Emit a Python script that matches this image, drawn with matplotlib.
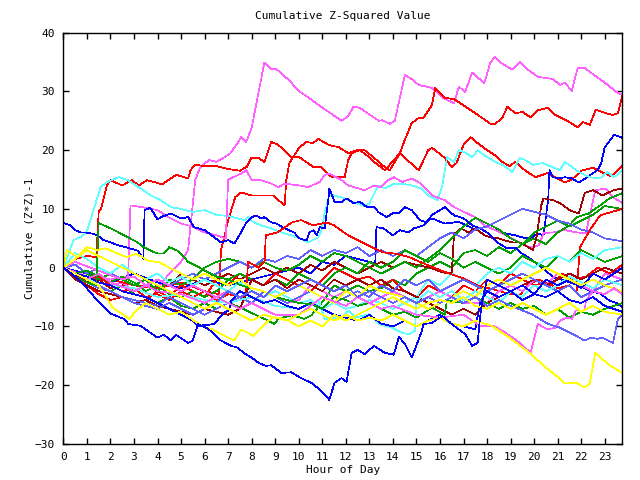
import matplotlib
matplotlib.use("Agg")
import matplotlib.pyplot as plt

# (hour, cumulative value) vertices, one list per trace
mag_a = [(0, 0), (0.5, -1), (1, -2), (1.5, -1.5), (2, -3), (2.5, -2.5), (3, -4), (3.5, -3), (4, -3.5), (4.5, -1),
         (5, 1), (5.3, 3), (5.6, 14.9), (5.8, 17), (6.0, 17.8), (6.2, 18.3), (6.5, 18), (6.8, 18.7), (7.1, 19.5),
         (7.4, 21.2), (7.55, 22.2), (7.77, 21.4), (8.0, 23.8), (8.3, 30), (8.54, 34.9), (8.83, 33.8), (9.05, 33.8),
         (9.56, 32), (10.03, 30), (10.4, 29), (10.84, 27.7), (11.27, 26.5), (11.82, 25), (12.08, 25.7), (12.33, 27.4),
         (12.59, 27.2), (13.4, 25), (13.53, 25.1), (13.87, 24.5), (14.08, 25), (14.51, 32.8), (14.8, 32.1),
         (15.1, 31.1), (15.66, 30.6), (16.2, 28.7), (16.6, 28), (16.8, 30.8), (17.07, 29.9), (17.37, 33.2),
         (17.88, 31.4), (18.14, 34.9), (18.35, 35.9), (18.57, 34.9), (19.08, 33.7), (19.38, 35), (19.63, 34),
         (20.15, 32.5), (20.8, 32.1), (21.1, 31.1), (21.3, 31.5), (21.6, 30.1), (21.85, 34), (22.15, 34),
         (22.4, 33.2), (23.0, 31.5), (23.5, 29.9), (23.75, 29.4)]
mag_b = [(0, 0), (1, -1.5), (2, -2), (2.75, -1.5), (2.85, 10.6), (3.35, 10.3), (4, 9.8), (4.5, 8.5), (5, 7.5),
         (5.5, 7), (6, 6), (6.5, 5.5), (6.9, 5), (7.0, 15), (7.55, 16), (7.77, 16.6), (8, 14.9), (8.4, 14.9),
         (8.83, 14.3), (9.13, 13.7), (9.4, 14.3), (10.03, 14), (10.4, 13.7), (10.9, 14.6), (11.1, 15.8), (11.3, 16),
         (11.82, 14.9), (12.1, 14), (12.8, 13.2), (13.2, 14), (13.5, 13.7), (13.8, 14.9), (14.04, 15.4),
         (14.4, 14.6), (14.8, 15.2), (15.2, 14.3), (15.66, 12.3), (16.2, 11.5), (16.6, 10.3), (17.07, 9.4),
         (17.5, 8.6), (17.9, 7.2), (18.35, 6.4), (18.8, 5.5), (19.4, 4.3), (19.8, 3.5), (20.2, 3.8), (20.4, 5.9),
         (20.8, 6), (21.3, 6.4), (21.8, 6), (22.2, 5.9), (22.6, 13.2), (23.05, 13.5), (23.35, 12), (23.75, 11)]
mag_c = [(0, 0), (1, -2), (1.5, -1), (2, -2.5), (3, -4), (3.5, -3), (4, -4), (5, -4.5), (6, -6), (6.5, -5),
         (7.5, -7), (8, -6), (9, -8), (10, -8), (10.5, -6.5), (11, -5), (12, -6.5), (12.5, -5), (13.5, -7),
         (14, -6.5), (15, -8), (16, -8.5), (17, -8), (17.7, -9.9), (18.3, -9.9), (18.8, -11.1), (19.4, -12.8),
         (19.85, -14.5), (20.15, -9.6), (20.57, -10.5), (20.9, -10.2), (21.1, -9), (21.4, -8.5), (21.6, -8.7),
         (21.77, -7.3), (22.15, -7.3), (22.2, -5.6), (22.5, -4), (23, -4.5), (23.4, -3.5), (23.75, -4.5)]
mag_d = [(0, 0), (0.5, 1), (1.5, -0.5), (2.5, -2), (3, -1.5), (3.5, -3), (4, -2), (5, -4), (5.5, -3), (6.5, -5),
         (7, -4), (8, -6), (8.5, -4), (9.5, -6), (10, -5.5), (10.5, -3), (11.5, -5), (12, -4), (13, -6),
         (14, -4), (15, -6), (16, -4), (17, -6), (18, -6), (18.5, -4), (19, -3), (19.5, -4), (20, -2),
         (20.5, -3), (21, -1), (22, -3), (22.5, -4), (23, -1), (23.75, -2)]

red_b = [(0, 0), (0.5, 1.5), (1, 2), (1.4, 1.8), (1.5, 9.5), (1.6, 10), (1.85, 14), (2, 14.9), (2.5, 14),
         (2.9, 14.9), (3.2, 14), (3.56, 14.9), (4.2, 14.2), (4.8, 15.8), (5.3, 15.2), (5.4, 16.6), (5.6, 17.5),
         (6, 17.3), (6.5, 17.3), (7, 16.8), (7.5, 16.5), (7.8, 17.2), (7.98, 18.7), (8.28, 18.7), (8.54, 18),
         (8.83, 21.4), (9.13, 20.9), (9.69, 18.8), (10.03, 18.8), (10.63, 17.1), (10.97, 17.1), (11.4, 15.4),
         (11.95, 15.4), (12.1, 18.3), (12.25, 19.5), (12.6, 20), (12.9, 19.1), (13.2, 18), (13.66, 16.6),
         (14.04, 18.3), (14.3, 19.5), (14.5, 21.7), (14.8, 24.6), (15.1, 25.5), (15.3, 25.5), (15.66, 27.7),
         (15.8, 30.6), (16.2, 28.9), (16.6, 28.7), (16.9, 27.9), (17.5, 26.3), (18.14, 24.5), (18.35, 24.5),
         (18.65, 25.5), (18.86, 27.4), (19.2, 26.3), (19.5, 26.5), (19.85, 25.6), (20.15, 26.8), (20.57, 27.2),
         (20.9, 26), (21.4, 25), (21.85, 23.9), (22.07, 24.8), (22.36, 24.3), (22.62, 26.9), (23.05, 26.3),
         (23.35, 26), (23.56, 26.3), (23.75, 29.4)]
red_c = [(0, 0), (1, -1.5), (2, -2), (3, -3), (4, -3.5), (5, -2.5), (6, -4), (6.6, -4.5), (6.7, 3), (7, 8),
         (7.3, 12), (7.55, 12.8), (8, 12.3), (8.9, 12.3), (9.4, 10.6), (9.47, 14.9), (9.6, 17.8), (10.03, 20.5),
         (10.33, 21.4), (10.6, 21.2), (10.84, 21.9), (11.27, 20.9), (11.7, 20.5), (12.1, 19.5), (12.5, 20),
         (12.8, 20), (13.2, 18.7), (13.66, 17.1), (13.87, 16.6), (14.08, 18), (14.3, 19.5), (14.5, 18.7),
         (15.1, 16.6), (15.5, 20), (15.66, 20.4), (16.2, 18.7), (16.5, 17.1), (16.7, 17.8), (17.0, 20.9),
         (17.3, 22.2), (17.6, 21.2), (17.9, 20.3), (18.35, 19.1), (18.65, 18), (18.95, 17.3), (19.2, 18),
         (19.6, 16.6), (20.06, 15.4), (20.57, 16.1), (20.9, 15.4), (21.3, 14.5), (21.6, 15), (22, 16.5),
         (22.5, 17), (23, 16), (23.3, 15.5), (23.75, 17.4)]
red_d = [(0, 0), (0.5, -1.5), (1, -3), (1.5, -4.5), (2, -5.5), (2.5, -5), (3, -6), (3.5, -5.5), (4, -4),
         (4.5, -5), (5, -3), (5.5, -4), (6, -5), (6.5, -2), (7, -3), (7.5, -1), (8, -2), (8.5, -3), (9, -1),
         (9.5, -2), (10, -3), (10.5, -4), (11, -2), (11.5, 0), (12, -1), (12.5, -2), (13, -1.5), (13.5, -3),
         (14, -2), (14.5, -4), (15, -5), (15.5, -3), (16, -4), (16.5, -5), (17, -3), (17.5, -4), (18, -2),
         (18.5, -3), (19, -1), (19.5, -2), (20, -3), (20.5, -2.5), (21, -3.5), (21.5, -3), (21.8, -4.3),
         (21.95, 3.5), (22.4, 6.6), (22.8, 8.9), (23.3, 9.5), (23.75, 10)]
red_e = [(0, 0), (0.5, -1), (1, -2), (1.5, -1.5), (2, -3), (2.5, -4), (3, -3.5), (3.5, -5), (4, -4.5), (4.5, -5.5),
         (5, -4), (5.5, -5), (6, -4), (6.5, -5.5), (7, -4.5), (7.5, -5), (7.75, -4.7), (7.85, 1), (8.3, 0),
         (8.55, 1), (8.6, 5.5), (9.1, 6), (9.7, 7.7), (10.1, 8.1), (10.6, 7.2), (11.2, 7.7), (11.5, 7.2),
         (12.1, 5.5), (12.7, 4.3), (13.2, 3.3), (13.6, 2.6), (14.1, 2.4), (14.7, 1.8), (15.2, 0.9), (15.8, -0.1),
         (16.4, -1), (17, -1.8), (17.6, -3), (18.2, -3.6), (18.8, -4.3), (19.4, -4.7), (19.7, -3), (20.2, -2),
         (20.7, -3), (21.2, -1), (21.7, -2), (22.2, -1.5), (22.7, 0), (23.2, -1), (23.75, 0.5)]

blue_top = [(0, 7.6), (0.3, 7.2), (0.5, 6.4), (0.73, 6), (0.94, 6), (1.24, 5.8), (1.45, 5.5), (1.7, 4.7),
            (2, 4.3), (2.35, 3.8), (2.73, 3.4), (3.16, 2.9), (3.4, 1.5), (3.45, 9.8), (3.7, 10.2), (4, 8.2),
            (4.2, 8.7), (4.57, 9.2), (5, 8.4), (5.3, 8.6), (5.55, 6.9), (6, 6.4), (6.4, 5.2), (6.7, 4.3), (7, 4.7),
            (7.26, 4.1), (7.55, 6), (7.77, 7.7), (8, 8.6), (8.2, 8.9), (8.4, 8.4), (8.54, 8.6), (8.83, 7.7),
            (9.05, 7.5), (9.4, 6.7), (9.8, 6), (10.03, 5), (10.33, 4.6), (10.45, 6), (10.63, 6.4), (10.76, 5.5),
            (10.9, 6.9), (11.1, 6.7), (11.27, 12), (11.3, 13.5), (11.52, 11.2), (11.82, 11.2), (12.03, 11.8),
            (12.33, 11), (12.6, 11.2), (12.9, 10.3), (13.2, 10.3), (13.4, 9.4), (13.74, 8.6), (14.04, 9.4),
            (14.25, 9.2), (14.5, 10.3), (14.8, 9.8), (15.15, 8.1), (15.45, 7.7), (15.66, 9), (16, 9.8),
            (16.2, 10.3), (16.6, 8.9), (17, 8.4), (17.37, 7.2), (17.7, 6.7), (18, 6), (18.44, 4.3), (18.8, 3.4),
            (19.2, 3.4), (19.4, 2.6), (19.75, 1.8), (19.95, 1.2), (20.5, -0.5), (20.8, -1.6), (21.3, -2.2),
            (21.9, -3), (22.36, -3.9), (22.8, -4.4), (23.2, -5.6), (23.56, -6.1), (23.75, -6.8)]
blue_d = [(0, 0), (0.5, -1.5), (1, -3.5), (1.45, -5.6), (2, -7.8), (2.56, -8.7), (2.77, -9.6), (3.29, -9.9),
          (3.71, -11.1), (4, -11.9), (4.27, -11.4), (4.57, -12.4), (4.78, -11.4), (5.3, -12.8), (5.5, -12.4),
          (5.72, -9.6), (6.15, -10.4), (6.7, -12.4), (7.13, -13.3), (7.4, -13.6), (7.7, -14.6), (8, -15.3),
          (8.3, -16.2), (8.6, -16.7), (8.83, -16.6), (9.26, -17.9), (9.69, -17.8), (10.1, -18.8), (10.54, -19.6),
          (10.97, -21), (11.3, -22.5), (11.52, -19.6), (11.82, -18.8), (12.03, -19.4), (12.25, -14.5),
          (12.5, -14), (12.8, -14.7), (13.2, -13.3), (13.66, -14.5), (14.04, -14.8), (14.25, -11.8),
          (14.5, -12.9), (14.8, -15.3), (15.2, -11.1), (15.3, -9.6), (15.66, -9.4), (16.1, -8.2), (16.5, -9.6),
          (17.07, -11.3), (17.37, -13.3), (17.6, -12.8), (17.7, -8.5), (17.8, -5.6), (18, -2), (18.5, -3),
          (19, -4), (19.5, -3), (20, -4.5), (20.5, -5), (21, -4), (21.5, -5.5), (22, -6), (22.5, -5), (23, -6.5),
          (23.75, -7.5)]
blue_e = [(0, 0), (1, -1), (2, -2.5), (3, -1), (4, -2.5), (5, -3.5), (6, -2), (7, -3), (8, -2), (9, -1),
          (10, 0), (10.5, -1), (11, 1), (11.5, 0.5), (12, 2), (12.5, 1.5), (13, 1), (13.25, 0.7), (13.3, 6.9),
          (13.6, 6.7), (14, 5.5), (14.3, 6.4), (14.66, 6), (14.9, 6.7), (15.3, 7.2), (15.5, 8.1), (15.66, 8.4),
          (16.2, 7.5), (16.8, 7.8), (17.5, 6.5), (18, 7), (18.6, 6), (19.2, 5.5), (19.55, 5.1), (19.85, 5),
          (20.15, 5.8), (20.4, 5.5), (20.6, 11.8), (20.65, 16.6), (20.8, 15.4), (21.1, 15.2), (21.3, 15.4),
          (21.6, 15.2), (21.9, 14.5), (22.3, 15.5), (22.5, 16.1), (22.7, 16.6), (22.85, 17.8), (23, 20.5),
          (23.4, 22.6), (23.75, 22.1)]
blue_f = [(0, 0), (0.5, -1), (1, -1.5), (1.5, -2.5), (2, -3), (2.5, -4), (3, -4.5), (3.5, -5), (4, -6),
          (4.5, -7), (5, -8), (5.5, -9), (5.72, -9.9), (6.4, -9.6), (6.83, -7.6), (7.04, -7.3), (7.13, -5.6),
          (7.5, -4), (8, -5), (8.5, -6), (9, -5.5), (9.5, -6.5), (10, -7), (10.5, -6), (11, -7), (11.5, -8),
          (12, -8.5), (12.5, -9), (13, -8), (13.5, -9.5), (14, -10), (14.5, -9), (15, -10), (15.5, -9),
          (16, -8), (16.5, -9.5), (17, -10), (17.5, -10.5), (17.7, -6), (18, -4), (18.5, -5), (19, -4),
          (19.5, -5.5), (20, -4.5), (20.5, -2), (21, -3), (21.5, -2), (22, -3.5), (22.5, -1), (23, -2),
          (23.75, 0)]

cyan_a = [(0, 0), (0.43, 4.7), (0.73, 5.2), (1.02, 6.4), (1.28, 9.8), (1.58, 13.7), (1.88, 14.6), (2.35, 15.4),
          (2.73, 14.9), (3.29, 13.5), (3.71, 12.3), (4.14, 11.5), (4.57, 10.3), (4.87, 10.1), (5.5, 9.5),
          (6, 9.8), (6.5, 9), (7, 8.8), (7.7, 8.1), (7.85, 8.6), (8.1, 7.7), (8.4, 7.2), (8.83, 6.7), (9.26, 6),
          (9.69, 5.5), (10.03, 5), (10.4, 4.3), (10.84, 5.2), (10.97, 6.4), (11.1, 9.3), (11.3, 12.5),
          (11.8, 12), (12.3, 11.2), (12.8, 10.5), (13, 10.9), (13.2, 12.6), (13.4, 14), (13.66, 13.5),
          (14.04, 14.3), (14.4, 14.3), (14.8, 14), (15.2, 13.5), (15.5, 12.3), (15.9, 11.5), (16.1, 14),
          (16.3, 18.8), (16.6, 18), (16.8, 20), (17.07, 19.6), (17.37, 18.8), (17.6, 20), (17.9, 19.1),
          (18.35, 18), (18.65, 17.5), (19.08, 16.3), (19.38, 18.7), (19.63, 18.3), (19.95, 17.5), (20.36, 17.8),
          (21.1, 16.6), (21.3, 18), (21.9, 16.3), (22.36, 15.4), (22.8, 15.2), (23.1, 16.3), (23.4, 15.4),
          (23.75, 16.6)]
cyan_b = [(0, 0), (0.5, -1), (1, -2), (2, -3), (3, -3.5), (4, -5), (5, -4.5), (6, -5.5), (7, -6), (8, -5),
          (9, -6.5), (10, -7), (10.84, -5.6), (11.1, -8.7), (11.8, -8.5), (12.1, -7.3), (12.4, -8.5), (13, -7.9),
          (13.4, -9.6), (13.95, -10.2), (14.4, -11.1), (14.7, -11.3), (14.94, -10.7), (15.0, -5.6), (15.5, -4),
          (16, -5), (16.5, -4), (17, -5.5), (17.5, -4), (18, -5), (18.5, -6), (19, -4), (19.5, -5), (20, -3),
          (20.5, -4), (21, -3), (21.5, -1.5), (22, -2.5), (22.5, -3.5), (23, -2), (23.75, -3)]
cyan_c = [(0, 0), (0.5, 2.5), (1, 1.5), (1.5, 0), (2, -1), (2.5, 0.5), (3, -1), (3.5, -2), (4, -1), (4.5, -2.5),
          (5, -1.5), (5.5, -3), (6, -2), (6.5, -3), (7, -4), (7.5, -2.5), (8, -4), (8.5, -5), (9, -4), (9.5, -5),
          (10, -6), (10.5, -5.5), (11, -7), (11.5, -6), (12, -7), (12.5, -6.5), (13, -5.5), (13.5, -6),
          (14, -7), (14.5, -6), (15, -5), (15.5, -2), (16, -3), (16.5, -1), (17, -2), (17.5, -3), (18, -1),
          (18.5, 0), (19, -1), (19.5, 1), (20, 0), (20.5, 1.5), (21, 2), (21.5, 1), (22, 2.5), (22.5, 1.5),
          (23, 3), (23.75, 3.5)]

green_a = [(0, 0), (0.5, -1.5), (1, -2.5), (1.4, -3), (1.5, 7.6), (2, 6.7), (2.35, 6), (2.73, 5.2), (3.16, 4.3),
           (3.41, 3.5), (3.71, 2.9), (4, 2.4), (4.27, 2.4), (4.5, 3.5), (4.9, 2.8), (5.3, 1), (5.7, 0.2),
           (6, -0.5), (6.5, -1.5), (7, -2), (7.55, -3), (8, -3.5), (8.5, -4), (9, -5), (9.5, -5.5), (10, -6),
           (10.5, -6.2), (11, -7), (11.5, -5), (12, -5.5), (12.5, -6.5), (13, -6), (13.5, -7), (14, -8),
           (14.5, -7.5), (15, -8.5), (15.66, -6.8), (16.2, -8), (16.3, -5.6), (17, -6), (17.5, -5), (18, -6),
           (18.5, -7), (19, -6), (19.5, -7), (20, -6.5), (20.5, -8), (21, -7), (21.5, -8.5), (22, -7.5),
           (22.5, -8), (23, -7), (23.75, -6)]
green_b = [(0, 0), (0.5, -1), (1, -2), (1.5, -3), (2, -4), (2.5, -3), (3, -4.5), (3.5, -5), (4, -6), (4.5, -5),
           (5, -6.5), (5.5, -7), (6, -6), (6.5, -7), (7, -6), (7.55, -6.8), (8.1, -7.9), (8.7, -9), (8.96, -9.6),
           (9.13, -8.7), (9.7, -8.1), (10.24, -8.7), (10.54, -8.1), (11.05, -5.6), (11.5, -3), (12, -4),
           (12.5, -3), (13, -4), (13.5, -3.5), (14, -2), (14.5, -3), (15, -1), (15.5, 0), (16, 1), (16.5, 0),
           (17, 2.5), (17.5, 3), (18, 2), (18.5, 3.5), (19, 2.5), (19.5, 4), (20, 5), (20.5, 4), (21, 6),
           (21.5, 7.2), (21.8, 8.6), (22.3, 9.2), (22.8, 10.6), (23.2, 11.8), (23.75, 12.7)]
green_c = [(0, 0), (0.5, 0.5), (1, -1), (1.5, -2), (2, -1), (2.5, -2), (3, -3), (3.5, -2), (4, -4), (4.5, -2),
           (5, -3), (5.5, -2), (6, 0), (6.5, 1), (7, 1.5), (7.5, 1), (8, 0), (8.5, 1), (9, 0), (9.5, -0.5),
           (10, 0.5), (10.5, 2), (11, 1), (11.5, 2.5), (12, 2), (12.5, 1), (13, 0), (13.5, -1), (14, 0),
           (14.5, 1), (15, 0), (15.5, 1.5), (16, 3), (16.5, 5), (17, 7), (17.5, 8.5), (18, 7.5), (18.5, 6.5),
           (19, 5), (19.5, 4), (20, 6), (20.5, 7), (21, 8), (21.5, 7), (22, 8), (22.5, 9), (23, 10.5),
           (23.75, 10)]
green_d = [(0, 0), (0.5, -1), (1, -0.5), (1.5, -1.5), (2, -2.5), (2.5, -1.5), (3, -2.5), (3.5, -4), (4, -3),
           (4.5, -4.5), (5, -5), (5.5, -4), (6, -5), (6.5, -4), (7, -2), (7.5, -1), (8, -2), (8.5, -3), (9, -2),
           (9.5, -3), (10, -1), (10.5, -2), (11, -3), (11.5, -1), (12, 0), (12.5, -1), (13, 1), (13.5, 0),
           (14, 1), (14.5, 3), (15, 2), (15.5, 1), (16, 2.5), (16.5, 1.5), (17, 0), (17.5, 1), (18, 0),
           (18.5, -1), (19, 0), (19.5, 2), (20, 1), (20.5, 0), (21, 2), (21.5, 1), (22, 3), (22.5, 2), (23, 1),
           (23.75, 2)]

dred_a = [(0, 0), (0.5, -1), (1, -2.5), (1.5, -2), (2, -3.5), (2.5, -3), (3, -4), (3.5, -3), (4, -2), (4.5, -3),
          (5, -1), (5.5, -2), (6, -3), (6.5, -2), (7, -1), (7.5, -2), (8, -1), (8.5, 0), (9, -1), (9.5, 0),
          (10, -1), (10.5, 0.5), (11, -0.5), (11.5, 1), (12, 0), (12.5, -1), (13, 0), (13.5, 1), (14, 0),
          (14.5, 1), (15, 0.5), (15.66, -0.1), (15.9, -0.5), (16.3, -1), (16.5, -0.8), (16.6, 5.9), (16.7, 6),
          (16.9, 6.7), (17.2, 6), (17.5, 6.7), (17.9, 5.5), (18.2, 5.1), (18.5, 5), (18.8, 4.6), (19.1, 4.3),
          (19.4, 4.3), (19.75, 3.5), (19.95, 3), (20.1, 5.2), (20.3, 10.6), (20.4, 11.8), (20.8, 11.5),
          (21.1, 11), (21.5, 9.8), (21.9, 9.2), (22.15, 12.7), (22.5, 13.2), (22.9, 12.3), (23.1, 12.7),
          (23.4, 13.2), (23.75, 13.5)]
dred_b = [(0, 0), (0.5, -2), (1, -3), (1.5, -4), (2, -4.5), (2.5, -5), (3, -6), (3.5, -5.5), (4, -6.5),
          (4.5, -7), (5, -7.5), (5.5, -8), (6, -7), (6.5, -7.5), (7, -8), (7.5, -7), (8, -2), (8.5, -3), (9, -2),
          (9.5, -3.5), (10, -2), (10.5, -3), (11, -4), (11.5, -2), (12, -3), (12.5, -2), (13, -3), (13.5, -2),
          (14, -3.5), (14.5, -4), (15, -5), (15.5, -6), (16, -7), (16.5, -8), (17, -7), (17.5, -8), (18, -6),
          (18.5, -5), (19, -4), (19.5, -3), (20, -2), (20.5, -3), (21, -2), (21.5, -1), (22, -2), (22.5, -1),
          (23, 0), (23.75, -1)]

yel_a = [(0, 0), (0.5, 1.5), (1, 3), (1.5, 2), (2, 1), (2.5, 0), (3, -1), (3.5, -2), (4, -3), (4.5, -4),
         (5, -5), (5.5, -6), (6, -7), (6.5, -6), (7, -7), (7.5, -8), (8, -9), (8.5, -8), (9, -8.5), (9.5, -9),
         (10, -8), (10.5, -7), (11, -8), (11.5, -9), (12, -8), (12.5, -9), (13, -8.5), (13.5, -9), (14, -8),
         (14.5, -9), (15, -10), (15.5, -9), (16, -8.5), (16.5, -9.5), (17, -10), (17.5, -9), (18.2, -9.9),
         (18.95, -11.9), (19.8, -14.5), (20.5, -17), (21.1, -18.9), (21.3, -19.7), (21.8, -19.6), (22.15, -20.4),
         (22.36, -19.7), (22.6, -14.5), (23.2, -16.6), (23.45, -17.2), (23.75, -17.9)]
yel_b = [(0, 0), (0.5, -1), (1, -2), (1.5, -3), (2.1, -6.8), (2.8, -8.7), (3.1, -7.3), (3.5, -6), (4, -7),
         (4.5, -8), (5, -7.5), (5.55, -9), (6, -10.2), (6.3, -10.4), (6.7, -11.3), (7.26, -12.4), (7.55, -10.5),
         (8.07, -11.6), (8.4, -10.2), (8.6, -9.4), (8.9, -8.5), (9.2, -8.5), (9.56, -9), (10, -10), (10.5, -9),
         (11, -10), (11.5, -8), (12, -9), (12.5, -8), (13, -7), (13.5, -6), (14, -5), (14.5, -6), (15, -7),
         (15.5, -6), (16, -5.5), (16.5, -6), (17, -5), (17.5, -6.5), (18, -7), (18.5, -6), (19, -7),
         (19.5, -6), (20, -7), (20.5, -8), (21, -7), (21.5, -6), (22, -7.5), (22.5, -6.5), (23, -7.5),
         (23.75, -8)]
yel_c = [(0, 0), (0.15, 3), (0.6, 1.8), (1, 3.5), (1.45, 3), (1.8, 3.3), (2.3, 2.4), (2.7, 1.8), (3.1, 2.4),
         (3.6, 1.2), (4.1, 0.9), (4.5, 0), (5, -1), (5.5, -2), (6, -1), (6.5, -2), (7, -3), (7.5, -2),
         (8, -3.5), (8.5, -4), (9, -5), (9.5, -4), (10, -3), (10.5, -4), (11, -5), (11.5, -6), (12, -4),
         (12.5, -5), (13, -3), (13.5, -4), (14, -4.5), (14.5, -5), (15, -6), (15.5, -7), (16, -6), (16.5, -5),
         (17, -4), (17.5, -5), (18, -3), (18.5, -2), (19, -3), (19.5, -2), (20, -1), (20.5, 0), (21, -1),
         (21.5, -2), (22, -3), (22.5, -2), (23, -3), (23.75, -4)]

slate_a = [(0, 0), (0.5, -1), (1, -2), (1.5, -3), (2, -4), (2.5, -5), (3, -6), (3.5, -6.5), (4, -7), (4.5, -6),
           (5, -7), (5.5, -8), (6, -7), (6.5, -6), (7, -4), (7.5, -5), (8, -4), (8.5, -5), (9, -3), (9.5, -4),
           (10, -3), (10.5, -2), (11, -3), (11.5, -4), (12, -3), (12.5, -5), (13, -4), (13.5, -5), (14, -6),
           (14.5, -5), (15, -6), (15.5, -5), (16, -6), (16.5, -5), (17, -6), (17.5, -5), (18, -6.5),
           (18.5, -5.5), (19, -6.5), (19.9, -7.9), (20.6, -9.6), (21.1, -10.2), (21.65, -11.3), (22.15, -12.4),
           (22.4, -11.9), (22.7, -12.1), (22.9, -11.9), (23.35, -12.8), (23.56, -8.7), (23.75, -7.9)]
slate_b = [(0, 0), (0.5, 0.5), (1, -1), (1.5, 0), (2, -1), (2.5, -2), (3, -1.5), (3.5, -3), (4, -2), (4.5, -3),
           (5, -2), (5.5, -1), (6, -2), (6.5, -1), (7, 0), (7.5, 1), (8, 0), (8.5, 1.5), (9, 1), (9.5, 2),
           (10, 1.5), (10.5, 3), (11, 2), (11.5, 3), (12, 2.5), (12.5, 3.5), (13, 2), (13.5, 3), (14, 2),
           (14.5, 3), (15, 2), (15.5, 3.5), (16, 5), (16.5, 6), (17, 5), (17.5, 6.5), (18, 7), (18.5, 8),
           (19, 9), (19.5, 10), (20, 9.5), (20.5, 9), (21, 8), (21.5, 7.5), (22, 6.5), (22.5, 6), (23, 5),
           (23.75, 4.5)]
slate_c = [(0, 0), (0.5, -1.5), (1, -2.5), (1.5, -3.5), (2, -4), (2.5, -5), (3, -5.5), (3.5, -6), (4, -6.5),
           (4.5, -5), (5, -6), (5.5, -7), (6, -8), (6.5, -7), (7, -6), (7.5, -5), (8, -6), (8.5, -4), (9, -5),
           (9.5, -6), (10, -5), (10.5, -4), (11, -5), (11.5, -6), (12, -5), (12.5, -4), (13, -5), (13.5, -3),
           (14, -4), (14.5, -2), (15, -3), (15.5, -2), (16, -4), (16.5, -3), (17, -2), (17.5, -3), (18, -4),
           (18.5, -3), (19, -2), (19.5, -1), (20, -2), (20.5, -3), (21, -4), (21.5, -3), (22, -5), (22.5, -4),
           (23, -3), (23.75, -2)]

traces = [
    (mag_a, "#ff60ff"), (red_b, "#ff0000"), (red_c, "#ff0000"), (blue_e, "#0000ff"), (cyan_a, "#60ffff"),
    (mag_b, "#ff60ff"), (green_b, "#00a000"), (dred_a, "#a00000"), (green_c, "#00a000"), (blue_top, "#0000ff"),
    (slate_b, "#6060ff"), (red_d, "#ff0000"), (green_d, "#00a000"), (cyan_c, "#60ffff"), (red_e, "#ff0000"),
    (mag_d, "#ff60ff"), (dred_b, "#a00000"), (slate_c, "#6060ff"), (cyan_b, "#60ffff"), (blue_f, "#0000ff"),
    (green_a, "#00a000"), (yel_c, "#ffff00"), (mag_c, "#ff60ff"), (slate_a, "#6060ff"), (yel_b, "#ffff00"),
    (yel_a, "#ffff00"), (blue_d, "#0000ff"),
]

plt.rcParams["font.family"] = ["DejaVu Sans Mono"]
plt.rcParams["font.size"] = 8

fig = plt.figure(figsize=(6.4, 4.8), dpi=100)
ax = fig.add_axes([0.099, 0.075, 0.8735, 0.857])

for pts, col in traces:
    xs = [p[0] for p in pts]
    ys = [p[1] for p in pts]
    ax.plot(xs, ys, color=col, lw=0.5, antialiased=False)

ax.set_xlim(0, 23.75)
ax.set_ylim(-30, 40)
ax.set_xticks(range(0, 24))
ax.set_yticks(range(-30, 41, 10))
ax.tick_params(direction="in", top=True, right=True, length=4, width=1, pad=6)
for s in ax.spines.values():
    s.set_linewidth(1)

ax.set_title("Cumulative Z-Squared Value", fontsize=8, pad=10)
ax.set_xlabel("Hour of Day", labelpad=2)
ax.set_ylabel("Cumulative (Z*Z)-1", labelpad=0)

fig.savefig("out.png", dpi=100)
